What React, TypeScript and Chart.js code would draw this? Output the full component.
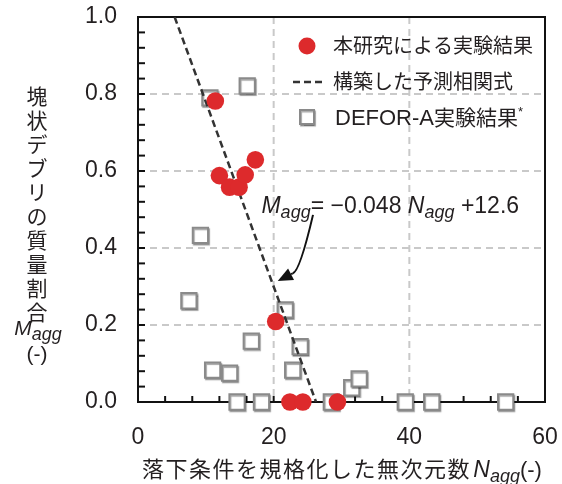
import React, { useEffect, useRef } from "react";
import { Chart, registerables } from "chart.js";

Chart.register(...registerables);

// ---- data ----
const studyX = [11.4, 12.0, 13.5, 14.9, 15.8, 17.3, 20.3, 22.4, 24.3, 29.4];
const studyY = [0.782, 0.588, 0.558, 0.558, 0.59, 0.629, 0.209, 0, 0, 0];
const deforX = [10.6, 16.1, 9.2, 7.5, 21.7, 16.7, 23.9, 11.0, 13.5, 22.8, 31.5, 32.6, 14.6, 18.2, 28.5, 39.4, 43.3, 54.2];
const deforY = [0.79, 0.821, 0.433, 0.263, 0.239, 0.158, 0.144, 0.083, 0.075, 0.083, 0.037, 0.06, 0, 0, 0, 0, 0, 0];
const fitX = [5.4, 26.25];
const fitY = [1.0, 0.0];
const xTicks = [0, 20, 40, 60];
const yTicks = [0, 0.2, 0.4, 0.6, 0.8, 1.0];
const xGrid = [20, 40];
const yGrid = [0.2, 0.4, 0.6, 0.8];
const xMinorStep = 4;
const yMinorStep = 0.04;
const legendLabels = ["本研究による実験結果", "構築した予測相関式", "DEFOR-A実験結果"];
const yTitleChars = ["塊", "状", "デ", "ブ", "リ", "の", "質", "量", "割", "合"];
const xTitleText = "落下条件を規格化した無次元数";
const eqText = { coef: "= −0.048", intercept: " +12.6" };

const RED = "#dd2a2c";
const SQ_BORDER = "#8a8a8a";
const LAT = '"Liberation Sans", Arial, sans-serif';
const CJK = '"Noto Sans CJK JP", "Liberation Sans", sans-serif';
const TXT = "#231f20";

type Run = { t: string; font: string; dy?: number; ls?: string };

function drawRuns(ctx: CanvasRenderingContext2D, runs: Run[], x: number, y: number, align: "left" | "center") {
  ctx.textAlign = "left";
  ctx.textBaseline = "alphabetic";
  const widths = runs.map((r) => {
    ctx.font = r.font;
    (ctx as any).letterSpacing = r.ls || "0px";
    return ctx.measureText(r.t).width;
  });
  const total = widths.reduce((a, b) => a + b, 0);
  let cx = align === "center" ? x - total / 2 : x;
  runs.forEach((r, i) => {
    ctx.font = r.font;
    (ctx as any).letterSpacing = r.ls || "0px";
    ctx.fillText(r.t, cx, y + (r.dy || 0));
    cx += widths[i];
  });
  (ctx as any).letterSpacing = "0px";
}

const framePlugin = {
  id: "frame",
  beforeDatasetsDraw(chart: any) {
    const { ctx, chartArea: a, scales } = chart;
    const xs = scales.x, ys = scales.y;
    ctx.save();
    ctx.strokeStyle = "#c9c9c9";
    ctx.lineWidth = 2;
    ctx.setLineDash([7, 5]);
    xGrid.forEach((v) => {
      const px = xs.getPixelForValue(v);
      ctx.beginPath();
      ctx.moveTo(px, a.top);
      ctx.lineTo(px, a.bottom);
      ctx.stroke();
    });
    yGrid.forEach((v) => {
      const py = ys.getPixelForValue(v);
      ctx.beginPath();
      ctx.moveTo(a.left, py);
      ctx.lineTo(a.right, py);
      ctx.stroke();
    });
    ctx.setLineDash([]);
    ctx.strokeStyle = "#111";
    ctx.lineWidth = 2;
    const nY = Math.round(1 / yMinorStep);
    for (let i = 1; i < nY; i++) {
      const py = ys.getPixelForValue(i * yMinorStep);
      ctx.beginPath();
      ctx.moveTo(a.left, py);
      ctx.lineTo(a.left + 7, py);
      ctx.stroke();
    }
    const nX = Math.round(60 / xMinorStep);
    for (let i = 1; i < nX; i++) {
      const px = xs.getPixelForValue(i * xMinorStep);
      ctx.beginPath();
      ctx.moveTo(px, a.bottom);
      ctx.lineTo(px, a.bottom - 6);
      ctx.stroke();
    }
    ctx.strokeRect(a.left, a.top, a.right - a.left, a.bottom - a.top);
    ctx.restore();
  },
  beforeDatasetDraw(chart: any, args: any) {
    if (args.index === 2) {
      const ctx = chart.ctx;
      ctx.save();
      ctx.shadowColor = "rgba(0,0,0,0.35)";
      ctx.shadowOffsetX = 1;
      ctx.shadowOffsetY = 1.5;
      ctx.shadowBlur = 1;
    }
  },
  afterDatasetDraw(chart: any, args: any) {
    if (args.index === 2) chart.ctx.restore();
  },
  afterDraw(chart: any) {
    const { ctx, scales } = chart;
    const xs = scales.x, ys = scales.y;
    ctx.save();
    ctx.fillStyle = TXT;

    // ---- legend ----
    const lx = 307;
    const rows = [46, 82, 117];
    ctx.fillStyle = RED;
    ctx.beginPath();
    ctx.arc(lx, rows[0], 8.5, 0, Math.PI * 2);
    ctx.fill();
    ctx.strokeStyle = "#333";
    ctx.lineWidth = 2.5;
    ctx.setLineDash([7, 4]);
    ctx.beginPath();
    ctx.moveTo(lx - 14, rows[1]);
    ctx.lineTo(lx + 15, rows[1]);
    ctx.stroke();
    ctx.setLineDash([]);
    ctx.save();
    ctx.shadowColor = "rgba(0,0,0,0.35)";
    ctx.shadowOffsetX = 1;
    ctx.shadowOffsetY = 1.5;
    ctx.shadowBlur = 1;
    ctx.fillStyle = "#fff";
    ctx.strokeStyle = SQ_BORDER;
    ctx.lineWidth = 2;
    ctx.fillRect(lx - 7, rows[2] - 7, 14, 14);
    ctx.strokeRect(lx - 7, rows[2] - 7, 14, 14);
    ctx.restore();
    ctx.fillStyle = TXT;
    drawRuns(ctx, [{ t: legendLabels[0], font: `20px ${CJK}` }], 333, rows[0] + 7, "left");
    drawRuns(ctx, [{ t: legendLabels[1], font: `20px ${CJK}` }], 333, rows[1] + 7, "left");
    drawRuns(
      ctx,
      [
        { t: "DEFOR-A", font: `22px ${LAT}` },
        { t: "実験結果", font: `21px ${CJK}` },
        { t: "*", font: `13px ${LAT}`, dy: -9 },
      ],
      335,
      rows[2] + 8,
      "left"
    );

    // ---- equation annotation ----
    const ex = xs.getPixelForValue(18.2);
    const ey = ys.getPixelForValue(0.49);
    drawRuns(
      ctx,
      [
        { t: "M", font: `italic 23px ${LAT}` },
        { t: "agg", font: `italic 18px ${LAT}`, dy: 5 },
        { t: eqText.coef + " ", font: `23px ${LAT}` },
        { t: "N", font: `italic 23px ${LAT}` },
        { t: "agg", font: `italic 18px ${LAT}`, dy: 5 },
        { t: eqText.intercept, font: `23px ${LAT}` },
      ],
      ex,
      ey,
      "left"
    );
    // arrow
    const p0 = { x: xs.getPixelForValue(25.8), y: ys.getPixelForValue(0.486) };
    const p1 = { x: xs.getPixelForValue(24.0), y: ys.getPixelForValue(0.355) };
    const tip = { x: xs.getPixelForValue(20.6), y: ys.getPixelForValue(0.314) };
    ctx.strokeStyle = "#111";
    ctx.lineWidth = 2;
    ctx.beginPath();
    ctx.moveTo(p0.x, p0.y);
    ctx.quadraticCurveTo(p1.x - 1, p1.y + 6, p1.x - 8, p1.y + 8);
    ctx.stroke();
    const ang = Math.atan2(tip.y - (p1.y + 8), tip.x - (p1.x - 8));
    const L = 15, W = 6.5;
    const bx = tip.x - L * Math.cos(ang), by = tip.y - L * Math.sin(ang);
    ctx.beginPath();
    ctx.moveTo(p1.x - 8, p1.y + 8);
    ctx.lineTo(bx, by);
    ctx.stroke();
    ctx.fillStyle = "#111";
    ctx.beginPath();
    ctx.moveTo(tip.x, tip.y);
    ctx.lineTo(bx - W * Math.sin(ang), by + W * Math.cos(ang));
    ctx.lineTo(bx + W * Math.sin(ang), by - W * Math.cos(ang));
    ctx.closePath();
    ctx.fill();

    // ---- y title (vertical stack) ----
    ctx.fillStyle = TXT;
    ctx.font = `21px ${CJK}`;
    ctx.textAlign = "center";
    ctx.textBaseline = "middle";
    yTitleChars.forEach((c, i) => {
      ctx.fillText(c, 37, 96 + i * 24);
    });
    drawRuns(
      ctx,
      [
        { t: "M", font: `italic 21px ${LAT}` },
        { t: "agg", font: `italic 18px ${LAT}`, dy: 5 },
      ],
      38,
      335,
      "center"
    );
    drawRuns(ctx, [{ t: "(-)", font: `21px ${LAT}` }], 37, 361, "center");

    // ---- x title ----
    drawRuns(
      ctx,
      [
        { t: xTitleText, font: `22px ${CJK}`, ls: "1.5px" },
        { t: " ", font: `8px ${LAT}` },
        { t: "N", font: `italic 23px ${LAT}` },
        { t: "agg", font: `italic 18px ${LAT}`, dy: 5 },
        { t: "(-)", font: `22px ${LAT}` },
      ],
      342,
      477,
      "center"
    );
    ctx.restore();
  },
};

export default function App() {
  const ref = useRef<HTMLCanvasElement | null>(null);
  useEffect(() => {
    if (!ref.current) return;
    const chart = new Chart(ref.current, {
      type: "scatter",
      data: {
        datasets: [
          {
            label: legendLabels[0],
            data: studyX.map((x, i) => ({ x, y: studyY[i] })),
            pointStyle: "circle",
            pointRadius: 8.8,
            pointHoverRadius: 8.8,
            backgroundColor: RED,
            borderColor: RED,
            borderWidth: 0,
            order: 1,
            clip: false,
          } as any,
          {
            label: legendLabels[1],
            data: fitX.map((x, i) => ({ x, y: fitY[i] })),
            showLine: true,
            pointRadius: 0,
            borderColor: "#333",
            borderWidth: 2.5,
            borderDash: [7, 4],
            fill: false,
            order: 2,
          } as any,
          {
            label: legendLabels[2],
            data: deforX.map((x, i) => ({ x, y: deforY[i] })),
            pointStyle: "rect",
            pointRadius: 10.8,
            pointHoverRadius: 10.8,
            backgroundColor: "#ffffff",
            borderColor: SQ_BORDER,
            borderWidth: 2,
            order: 3,
            clip: false,
          } as any,
        ],
      },
      options: {
        animation: false,
        responsive: false,
        devicePixelRatio: 1,
        events: [],
        layout: { autoPadding: false, padding: { top: 17, right: 17, left: 0, bottom: 0 } },
        plugins: { legend: { display: false }, tooltip: { enabled: false } },
        scales: {
          x: {
            type: "linear",
            min: 0,
            max: 60,
            afterFit: (s: any) => {
              s.height = 82;
              s.paddingLeft = 0;
              s.paddingRight = 0;
              s.paddingTop = 0;
              s.paddingBottom = 0;
            },
            afterBuildTicks: (s: any) => {
              s.ticks = xTicks.map((v) => ({ value: v }));
            },
            grid: { display: false, drawTicks: false },
            border: { display: false },
            ticks: {
              font: { family: LAT, size: 23 },
              color: TXT,
              padding: 22,
              maxRotation: 0,
              callback: (v: any) => String(v),
            },
          },
          y: {
            type: "linear",
            min: 0,
            max: 1,
            afterFit: (s: any) => {
              s.width = 138;
              s.paddingLeft = 0;
              s.paddingRight = 0;
              s.paddingTop = 0;
              s.paddingBottom = 0;
            },
            afterBuildTicks: (s: any) => {
              s.ticks = yTicks.map((v) => ({ value: v }));
            },
            grid: { display: false, drawTicks: false },
            border: { display: false },
            ticks: {
              font: { family: LAT, size: 23 },
              color: TXT,
              padding: 21,
              callback: (v: any) => Number(v).toFixed(1),
            },
          },
        },
      },
      plugins: [framePlugin],
    } as any);
    return () => chart.destroy();
  }, []);
  return (
    <div style={{ position: "fixed", left: 0, top: 0, width: 562, height: 484, background: "#fff" }}>
      <canvas ref={ref} width={562} height={484} style={{ display: "block" }} />
    </div>
  );
}
